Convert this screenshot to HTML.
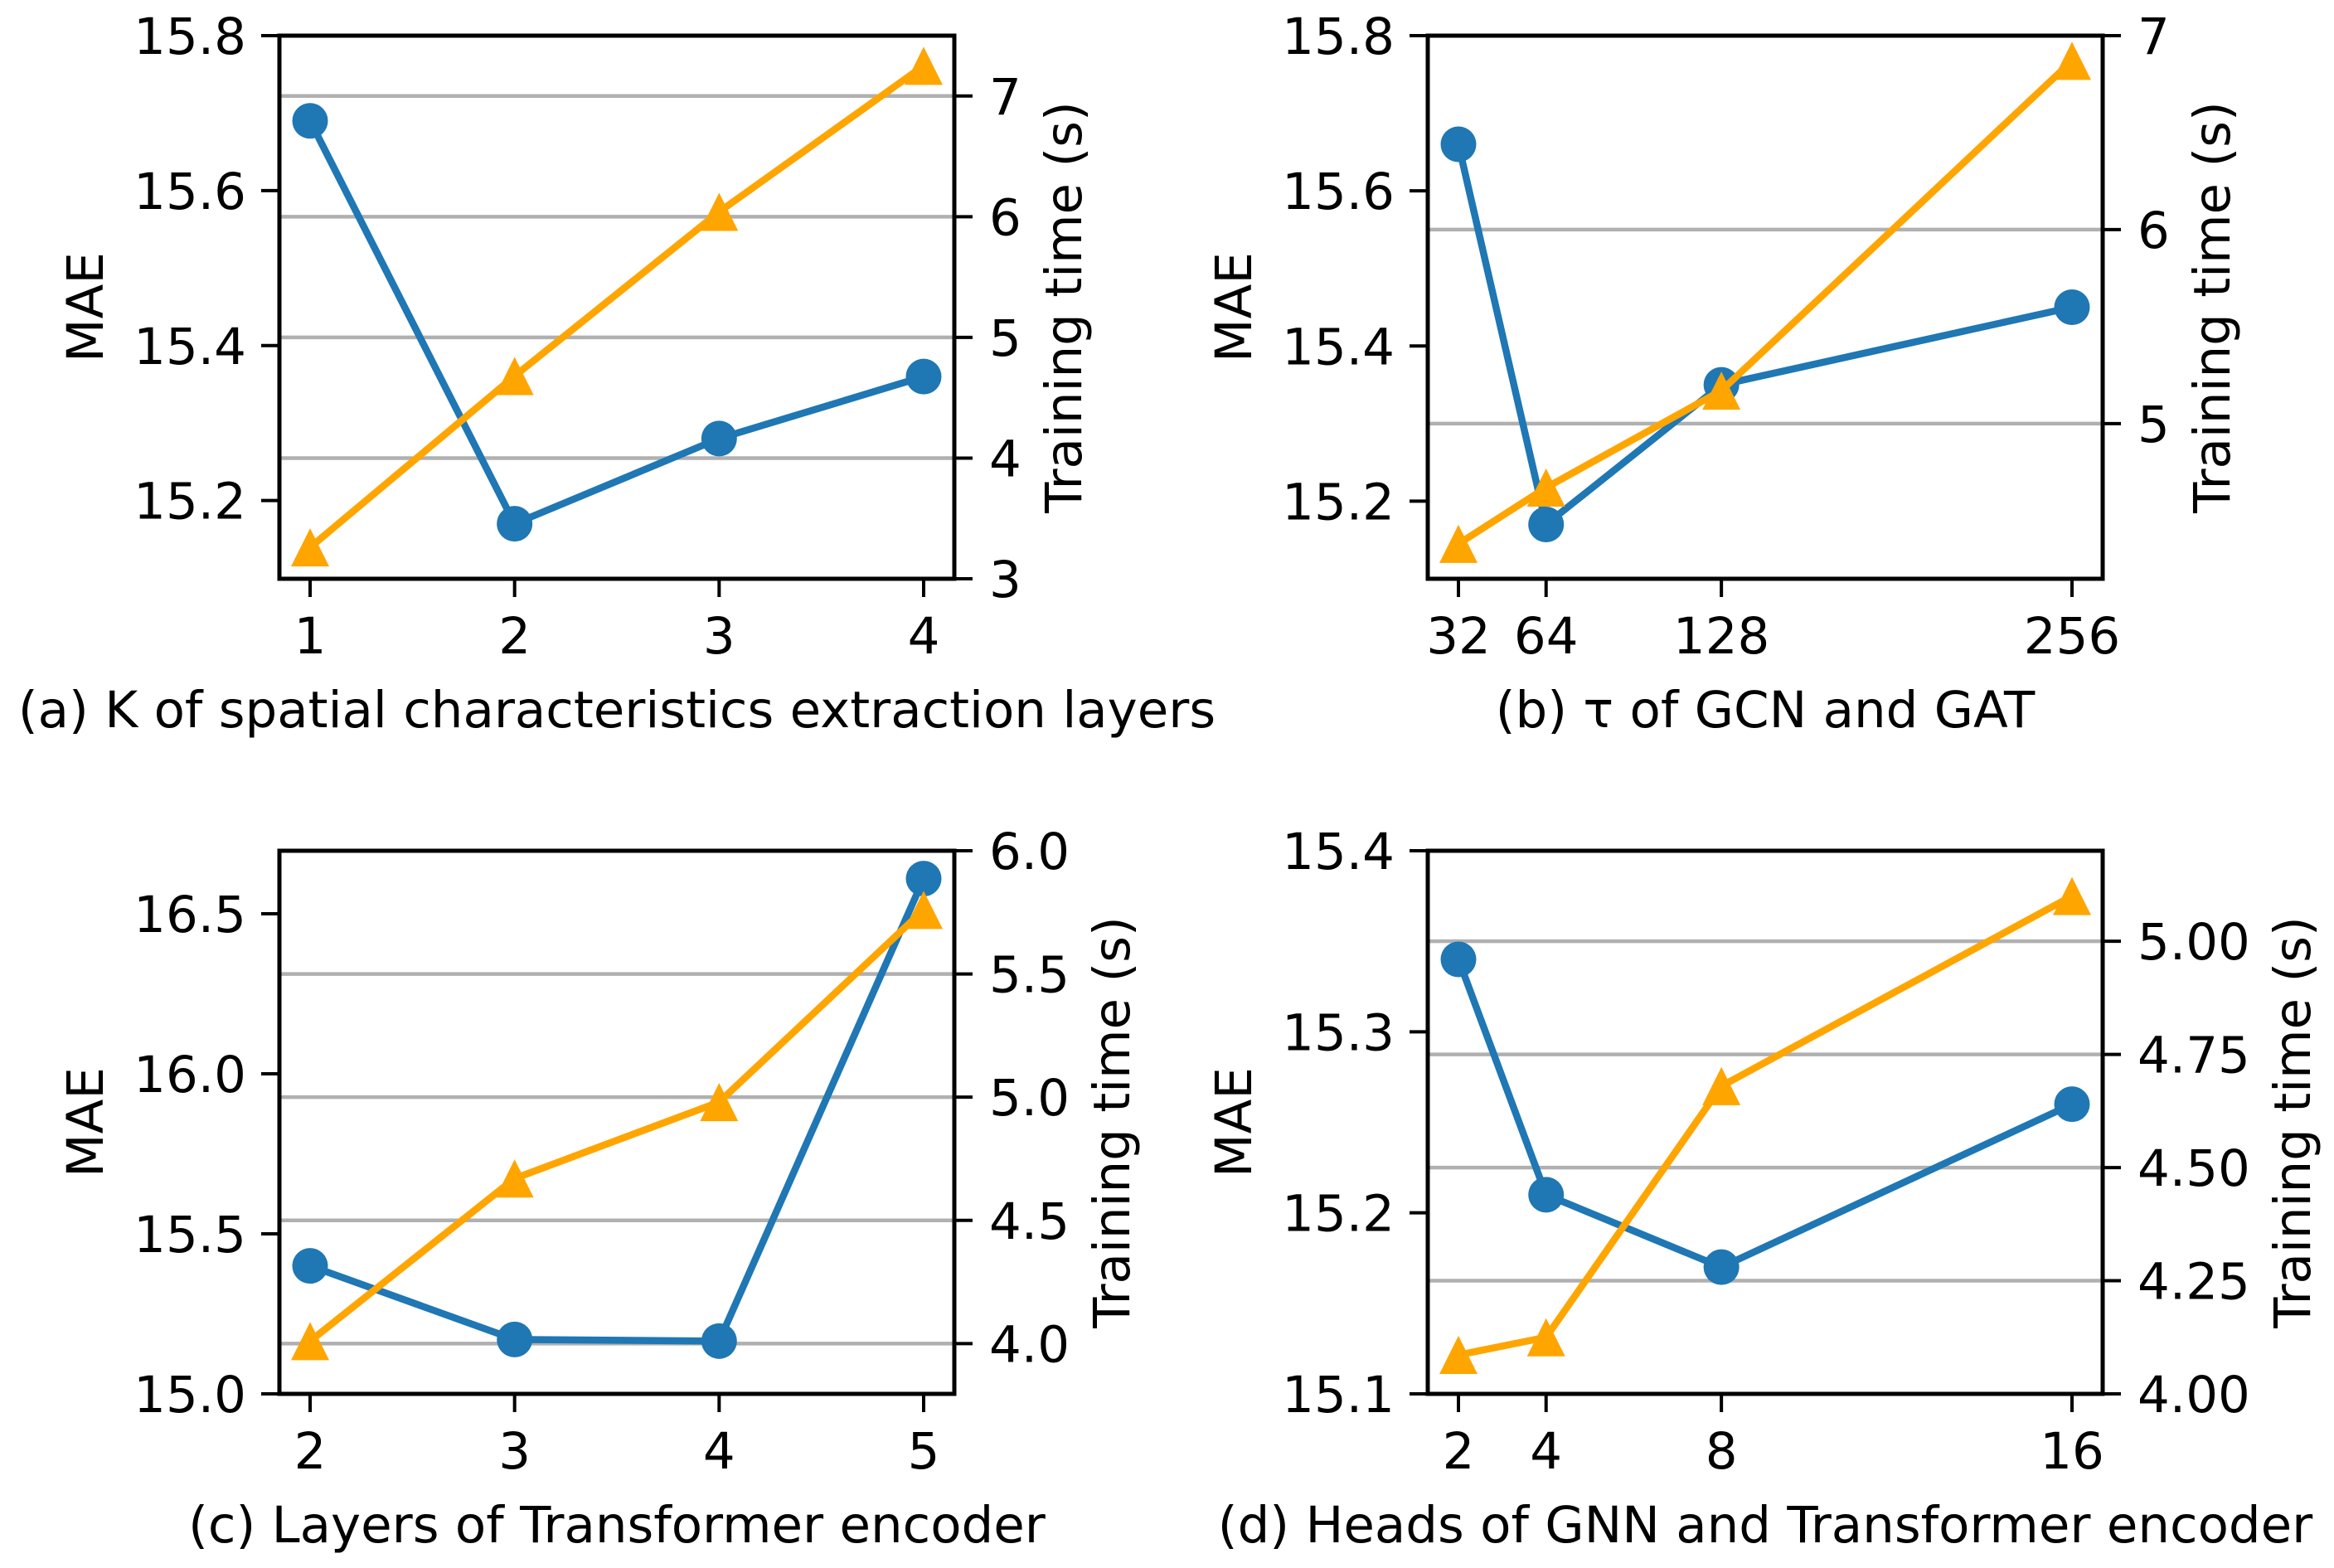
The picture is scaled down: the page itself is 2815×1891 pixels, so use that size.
<!DOCTYPE html>
<html><head><meta charset="utf-8"><style>
html,body{margin:0;padding:0;background:#fff;}
svg{display:block;}
text{font-family:"DejaVu Sans","Liberation Sans",sans-serif;fill:#000;}
</style></head><body>
<svg id="fig" width="2815" height="1891" viewBox="0 0 2815 1891" xmlns="http://www.w3.org/2000/svg"></svg>
<script>
// Panel (a)
const catsA = [1, 2, 3, 4];
const maeA = [15.69, 15.17, 15.28, 15.36];
const timeA = [3.26, 4.68, 6.04, 7.25];
const leftTicksA = [15.2, 15.4, 15.6, 15.8];
const rightTicksA = [3, 4, 5, 6, 7];
// Panel (b)
const catsB = [32, 64, 128, 256];
const maeB = [15.66, 15.17, 15.35, 15.45];
const timeB = [4.38, 4.67, 5.17, 6.87];
const leftTicksB = [15.2, 15.4, 15.6, 15.8];
const rightTicksB = [5, 6, 7];
// Panel (c)
const catsC = [2, 3, 4, 5];
const maeC = [15.40, 15.17, 15.165, 16.61];
const timeC = [4.01, 4.67, 4.98, 5.76];
const leftTicksC = [15.0, 15.5, 16.0, 16.5];
const rightTicksC = [4.0, 4.5, 5.0, 5.5, 6.0];
// Panel (d)
const catsD = [2, 4, 8, 16];
const maeD = [15.34, 15.21, 15.17, 15.26];
const timeD = [4.086, 4.125, 4.68, 5.10];
const leftTicksD = [15.1, 15.2, 15.3, 15.4];
const rightTicksD = [4.00, 4.25, 4.50, 4.75, 5.00];

const NS = "http://www.w3.org/2000/svg";
const svg = document.getElementById('fig');
const FS = 61;
function mk(tag, attrs, parent) {
  const e = document.createElementNS(NS, tag);
  for (const k in attrs) e.setAttribute(k, attrs[k]);
  (parent || svg).appendChild(e);
  return e;
}
function textW(s) {
  let w = 0;
  for (const ch of s) w += (ch === '.' ? 0.318 : 0.636);
  return w * FS;
}

const panels = [
  {id:'a', cats:catsA, mae:maeA, time:timeA, lt:leftTicksA, rt:rightTicksA, ldec:1, rdec:0,
   x0:337, x1:1151, y0:43, y1:698, xlim:[0.85,4.15], ylim:[15.099,15.8], rlim:[3,7.5],
   caption:'(a) K of spatial characteristics extraction layers'},
  {id:'b', cats:catsB, mae:maeB, time:timeB, lt:leftTicksB, rt:rightTicksB, ldec:1, rdec:0,
   x0:1722, x1:2536, y0:43, y1:698, xlim:[20.8,267.2], ylim:[15.1,15.8], rlim:[4.2,7],
   caption:'(b) τ of GCN and GAT'},
  {id:'c', cats:catsC, mae:maeC, time:timeC, lt:leftTicksC, rt:rightTicksC, ldec:1, rdec:1,
   x0:337, x1:1151, y0:1026, y1:1681, xlim:[1.85,5.15], ylim:[15.0,16.697], rlim:[3.796,6.0],
   caption:'(c) Layers of Transformer encoder'},
  {id:'d', cats:catsD, mae:maeD, time:timeD, lt:leftTicksD, rt:rightTicksD, ldec:1, rdec:2,
   x0:1722, x1:2536, y0:1026, y1:1681, xlim:[1.3,16.7], ylim:[15.1,15.4], rlim:[4.0,5.2],
   caption:'(d) Heads of GNN and Transformer encoder'}
];

panels.forEach(p => {
  const g = mk('g', {});
  
  
  const sx = v => p.x0 + (v - p.xlim[0]) / (p.xlim[1] - p.xlim[0]) * (p.x1 - p.x0);
  const syL = v => p.y1 - (v - p.ylim[0]) / (p.ylim[1] - p.ylim[0]) * (p.y1 - p.y0);
  const syR = v => p.y1 - (v - p.rlim[0]) / (p.rlim[1] - p.rlim[0]) * (p.y1 - p.y0);

  p.rt.forEach(t => {
    const y = syR(t);
    if (y > p.y0 + 3 && y < p.y1 - 3) {
      const l = mk('line', {x1:p.x0, x2:p.x1, y1:y, y2:y, stroke:'#b0b0b0', 'stroke-width':4.5}, g);
      
      
    }
  });

  const ptsM = p.cats.map((c,i) => sx(c) + ',' + syL(p.mae[i])).join(' ');
  const lm = mk('polyline', {points:ptsM, fill:'none', stroke:'#1f77b4', 'stroke-width':8.5, 'stroke-linejoin':'round'}, g);
  
  
  p.cats.forEach((c,i) => {
    const m = mk('circle', {cx:sx(c), cy:syL(p.mae[i]), r:21.5, fill:'#1f77b4'}, g);
    
    
  });
  const ptsT = p.cats.map((c,i) => sx(c) + ',' + syR(p.time[i])).join(' ');
  const lt = mk('polyline', {points:ptsT, fill:'none', stroke:'#ffa500', 'stroke-width':8.5, 'stroke-linejoin':'round'}, g);
  
  
  p.cats.forEach((c,i) => {
    const x = sx(c), y = syR(p.time[i]), s = 23;
    const m = mk('polygon', {points:`${x},${y-s} ${x-s},${y+s} ${x+s},${y+s}`, fill:'#ffa500'}, g);
    
    
  });

  const fr = mk('rect', {x:p.x0, y:p.y0, width:p.x1-p.x0, height:p.y1-p.y0, fill:'none', stroke:'#000', 'stroke-width':5}, g);
  
  

  p.cats.forEach(c => {
    const x = sx(c);
    mk('line', {x1:x, x2:x, y1:p.y1, y2:p.y1+22, stroke:'#000', 'stroke-width':4}, g);
    const t = mk('text', {x:x, y:p.y1+90, 'font-size':FS, 'text-anchor':'middle'}, g);
    t.textContent = String(c);
    
    
  });
  p.lt.forEach(v => {
    const y = syL(v);
    mk('line', {x1:p.x0-22, x2:p.x0, y1:y, y2:y, stroke:'#000', 'stroke-width':4}, g);
    const t = mk('text', {x:p.x0-40, y:y+22, 'font-size':FS, 'text-anchor':'end'}, g);
    t.textContent = v.toFixed(p.ldec);
    
    
  });
  let maxW = 0;
  p.rt.forEach(v => {
    const y = syR(v);
    mk('line', {x1:p.x1, x2:p.x1+22, y1:y, y2:y, stroke:'#000', 'stroke-width':4}, g);
    const s = v.toFixed(p.rdec);
    maxW = Math.max(maxW, textW(s));
    const t = mk('text', {x:p.x1+42, y:y+22, 'font-size':FS, 'text-anchor':'start'}, g);
    t.textContent = s;
    
    
  });
  const cy = (p.y0 + p.y1) / 2;
  const lx = p.x0 - 213;
  const la = mk('text', {x:lx, y:cy, 'font-size':FS, 'text-anchor':'middle', transform:`rotate(-90 ${lx} ${cy})`}, g);
  la.textContent = 'MAE';
  
  
  const rx = p.x1 + 42 + maxW + 50;
  const ra = mk('text', {x:rx, y:cy, 'font-size':FS, 'text-anchor':'middle', transform:`rotate(-90 ${rx} ${cy}) translate(0 22)`}, g);
  ra.textContent = 'Training time (s)';
  
  
  const cap = mk('text', {x:(p.x0+p.x1)/2, y:p.y1+179, 'font-size':FS, 'text-anchor':'middle'}, g);
  cap.textContent = p.caption;
  
  
});
</script>
</body></html>
